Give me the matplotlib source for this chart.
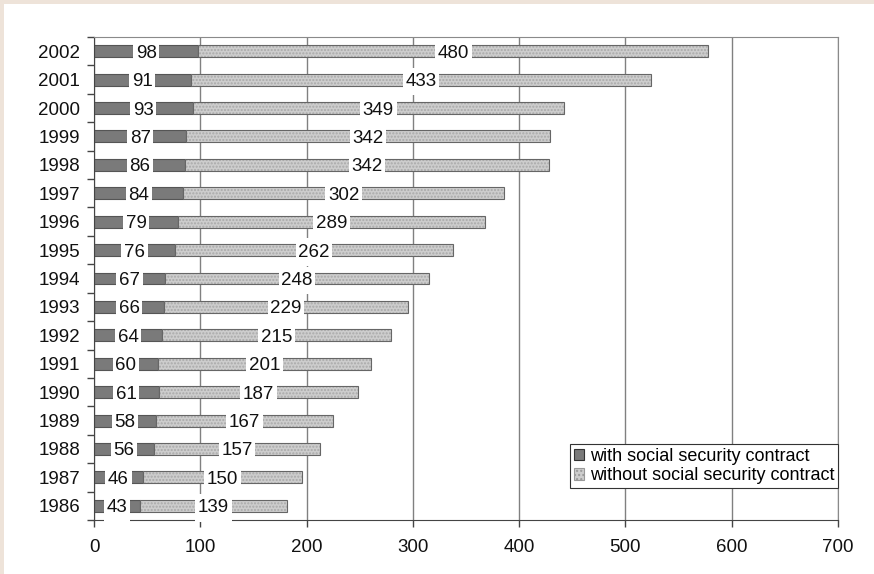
import matplotlib
matplotlib.use('Agg')
import matplotlib.pyplot as plt
from matplotlib.patches import Patch, Rectangle
from matplotlib.path import Path
import numpy as np

plt.rcParams['font.family'] = ['Liberation Sans', 'DejaVu Sans']
plt.rcParams['font.size'] = 13.5

years = [1986, 1987, 1988, 1989, 1990, 1991, 1992, 1993, 1994,
         1995, 1996, 1997, 1998, 1999, 2000, 2001, 2002]
with_contract = [43, 46, 56, 58, 61, 60, 64, 66, 67, 76, 79, 84, 86, 87, 93, 91, 98]
without_contract = [139, 150, 157, 167, 187, 201, 215, 229, 248, 262, 289, 302,
                    342, 342, 349, 433, 480]
series_names = ['with social security contract', 'without social security contract']

dark = '#7a7a7a'
light = '#cdcdcd'
edge = '#555555'


def label_box(x0, y0, width, height, mutation_size):
    # narrow on the sides, tall above and below (like the excel labels)
    px = 0.14 * mutation_size
    py = 0.28 * mutation_size
    xa, xb = x0 - px, x0 + width + px
    ya, yb = y0 - py, y0 + height + py
    return Path([(xa, ya), (xb, ya), (xb, yb), (xa, yb), (xa, ya)], closed=True)


fig = plt.figure(figsize=(8.74, 5.74), dpi=100, facecolor='#eee3d9')
fig.add_artist(Rectangle((4 / 874, 0), 1, 1 - 4 / 574, transform=fig.transFigure,
                         fc='white', ec='none', zorder=-1))
ax = fig.add_axes([94 / 874, 1 - 520 / 574, 744 / 874, 483 / 574])

y = np.arange(len(years))
w = np.array(with_contract)
wo = np.array(without_contract)
h = 0.42

ax.barh(y, w, height=h, color=dark, edgecolor=edge, linewidth=0.8, zorder=2)
ax.barh(y, wo, left=w, height=h, color=light, hatch='.....', edgecolor='#a9a9a9',
        linewidth=0, zorder=2)
ax.barh(y, wo, left=w, height=h, fill=False, edgecolor='#666666', linewidth=0.8, zorder=2)

for yi, a, b in zip(y, w, wo):
    ax.text(a / 2, yi, str(a), ha='center', va='center_baseline', color='#111111',
            bbox=dict(boxstyle=label_box, fc='white', ec='none'), zorder=4)
    ax.text(a + b / 2, yi, str(b), ha='center', va='center_baseline', color='#111111',
            bbox=dict(boxstyle=label_box, fc='white', ec='none'), zorder=4)

ax.set_xlim(0, 700)
ax.set_ylim(-0.5, len(years) - 0.5)
ax.set_xticks(range(0, 701, 100))
ax.set_yticks(y)
ax.set_yticklabels([str(v) for v in years])
ax.set_yticks(np.arange(-0.5, len(years), 1), minor=True)

ax.xaxis.grid(True, color='#808080', linewidth=1)
ax.set_axisbelow(True)

ax.tick_params(axis='y', which='major', length=0, pad=10, labelcolor='#111111')
ax.tick_params(axis='y', which='minor', length=5, width=1, color='#444444')
ax.tick_params(axis='x', which='major', length=5, width=1, color='#444444', pad=9,
               labelcolor='#111111')

ax.spines['left'].set_color('#444444')
ax.spines['bottom'].set_color('#444444')
ax.spines['top'].set_color('#8a8a8a')
ax.spines['right'].set_color('#8a8a8a')

handles = [Patch(facecolor=dark, edgecolor='#333333', linewidth=0.8),
           Patch(facecolor=light, edgecolor='#999999', hatch='....', linewidth=0.8)]
leg = ax.legend(handles, series_names, loc='upper right', bbox_to_anchor=(1.0, 0.157),
                borderaxespad=0, fancybox=False, framealpha=1, edgecolor='#333333',
                handlelength=0.6, handleheight=0.6, handletextpad=0.3,
                borderpad=0.2, labelspacing=0.15, fontsize=13)
leg.get_frame().set_linewidth(0.8)
leg.set_zorder(5)

fig.savefig('out.png', dpi=100, facecolor=fig.get_facecolor())
